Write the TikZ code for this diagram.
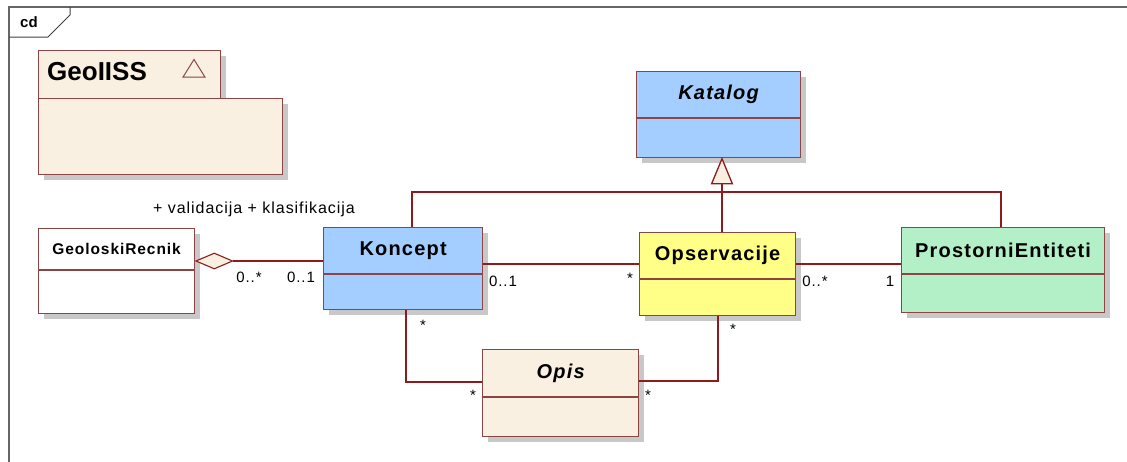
\documentclass[tikz,border=0pt]{standalone}
\usepackage{fontspec}
\setmainfont{Liberation Sans}
\newfontfamily\spaced[LetterSpace=6]{Liberation Sans}
\usetikzlibrary{shapes.geometric,calc}
\definecolor{edgec}{HTML}{8E1B1B}
\definecolor{bordc}{HTML}{8B4545}
\definecolor{bluec}{HTML}{A4CEFF}
\definecolor{yelc}{HTML}{FFFF88}
\definecolor{grnc}{HTML}{B3F0C8}
\definecolor{linc}{HTML}{FAF0E2}
\definecolor{shadc}{HTML}{C8C8C8}
\newcommand\UmlBox[8]{% name, x1, y1, x2, y2, sepY, fill, text
  \fill[shadc] (#2+6,#3+6) rectangle (#4+6,#5+6);
  \node[draw=bordc, line width=1.2pt, fill=#7, anchor=north west, inner sep=0pt,
        minimum width=#4-#2, minimum height=#5-#3] (#1) at (#2,#3) {};
  \draw[draw=bordc, line width=1.2pt] (#1.west |- 0,#6) -- (#1.east |- 0,#6);
  \node[cname] (#1-t) at ($(#1.north)!0.5!(#1.north |- 0,#6)$) {#8};
}
\begin{document}
\begin{tikzpicture}[x=1pt,y=-1pt,
  assoc/.style={draw=edgec, line width=1.3pt},
  mult/.style={font=\spaced\fontsize{15}{15}\selectfont, inner sep=0pt},
  cname/.style={font=\spaced\bfseries\fontsize{20}{20}\selectfont, inner sep=0pt}]
\useasboundingbox (0,0) rectangle (1127,461);
% frame
\draw[line width=1.2pt, black!60] (9,465) -- (9,7) -- (1130,7);
\draw[line width=1pt, black!75] (9,37) -- (48,37) -- (70,15) -- (70,7);
\node[font=\bfseries\fontsize{15}{15}\selectfont, inner sep=0pt] (cd) at (29,22) {cd};
% package GeoIISS
\fill[shadc] (44,56) rectangle (226,104);
\fill[shadc] (44,104) rectangle (288,180);
\node[draw=bordc, line width=1.2pt, fill=linc, anchor=north west, inner sep=0pt,
      minimum width=182, minimum height=48] (pkgtab) at (38,50) {};
\node[draw=bordc, line width=1.2pt, fill=linc, anchor=north west, inner sep=0pt,
      minimum width=244, minimum height=76] (pkgbody) at (38,98) {};
\node[font=\bfseries\fontsize{26}{26}\selectfont, anchor=west, inner sep=0pt] (pkgname) at (47,72) {GeoIISS};
\node[draw=bordc, line width=1pt, isosceles triangle, isosceles triangle apex angle=64,
      shape border rotate=90, minimum width=22, minimum height=17, inner sep=0pt] (pkgtri) at (194,71) {};
% classes
\UmlBox{katalog}{636}{71}{800}{157}{118}{bluec}{\itshape Katalog}
\UmlBox{geo}{38}{228}{194}{313}{270}{white}{\fontsize{15.5}{15.5}\selectfont GeoloskiRecnik}
\UmlBox{koncept}{323}{227}{482}{309}{274}{bluec}{Koncept}
\UmlBox{opserv}{639}{232}{795}{315}{279}{yelc}{Opservacije}
\UmlBox{prost}{901}{227}{1104}{312}{274}{grnc}{ProstorniEntiteti}
\UmlBox{opis}{482}{349}{638}{436}{397}{linc}{\itshape Opis}
% aggregation
\node[diamond, draw=edgec, line width=1.1pt, fill=linc, aspect=2.2, inner sep=0pt,
      minimum width=37, minimum height=16, anchor=west] (diam) at (geo.east |- 0,261) {};
\draw[assoc] (diam.east) -- (koncept.west |- diam.east);
\node[font=\spaced\fontsize{16}{16}\selectfont, inner sep=0pt] (roles) at (254,209) {+ validacija + klasifikacija};
\node[mult] (m1) at (249,277) {0..*};
\node[mult] (m2) at (301,277) {0..1};
% generalization
\coordinate (triapex) at (722,157);
\node[draw=edgec, line width=1.3pt, fill=linc, isosceles triangle, isosceles triangle apex angle=45,
      shape border rotate=90, minimum width=19, minimum height=25, inner sep=0pt, anchor=apex] (gtri) at (triapex) {};
\draw[assoc] (gtri.south) -- (gtri.south |- opserv.north);
\draw[assoc] (koncept.north -| 412,0) |- (gtri.south |- 0,192) -| (prost.north -| 1001,0);
% associations
\draw[assoc] (koncept.east |- 0,264) -- (opserv.west |- 0,264);
\node[mult] (m3) at (503,281) {0..1};
\node[mult] (m4) at (630,278) {*};
\draw[assoc] (opserv.east |- 0,264) -- (prost.west |- 0,264);
\node[mult] (m5) at (815,281) {0..*};
\node[mult] (m6) at (890,281) {1};
\draw[assoc] (koncept.south -| 406,0) |- (opis.west |- 0,382);
\node[mult] (m7) at (423,325) {*};
\node[mult] (m8) at (473,395) {*};
\draw[assoc] (opserv.south -| 718,0) |- (opis.east |- 0,381);
\node[mult] (m9) at (733,329) {*};
\node[mult] (m10) at (648,395) {*};
\end{tikzpicture}
\end{document}
